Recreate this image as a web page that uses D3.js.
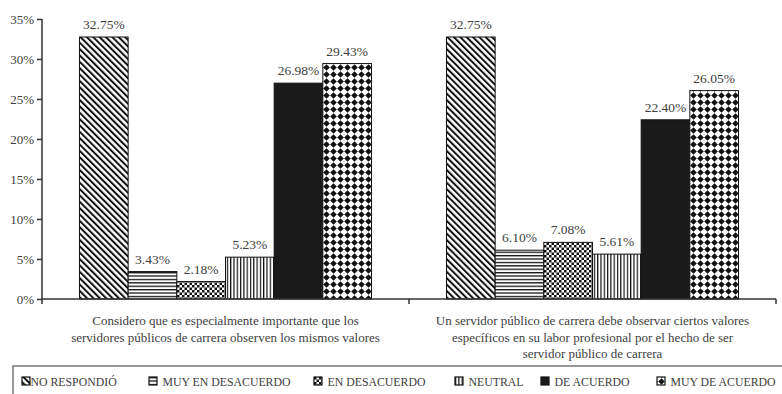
<!DOCTYPE html>
<html>
<head>
<meta charset="utf-8">
<script src="https://cdn.jsdelivr.net/npm/d3@7"></script>
<style>
  body { margin: 0; background: #fff; }
  svg text { font-family: "Liberation Serif", "DejaVu Serif", serif; fill: #404040; }
</style>
</head>
<body>
<div id="myfigure"></div>
<script>
// data
var series = ["NO RESPONDIÓ", "MUY EN DESACUERDO", "EN DESACUERDO", "NEUTRAL", "DE ACUERDO", "MUY DE ACUERDO"];
var categories = ["q1", "q2"];
var categoryLines = [
    ["Considero que es especialmente importante que los",
     "servidores públicos de carrera observen los mismos valores"],
    ["Un servidor público de carrera debe observar ciertos valores",
     "específicos en su labor profesional por el hecho de ser",
     "servidor público de carrera"]
];
var valuesQ1 = [32.75, 3.43, 2.18, 5.23, 26.98, 29.43];
var valuesQ2 = [32.75, 6.10, 7.08, 5.61, 22.40, 26.05];
var yTicks = [0, 5, 10, 15, 20, 25, 30, 35];

var width = 782;
var height = 394;
var margin = { left: 42, right: 6, top: 19, bottom: 95 };
var serif = '"Liberation Serif", "DejaVu Serif", serif';

var svg = d3.select("#myfigure").
    append("svg").
    attr("width", width).
    attr("height", height);

// patterns, one per series
var defs = svg.append("defs");
var patIds = ["p-diag", "p-horiz", "p-check", "p-vert", "p-solid", "p-diamond"];

var p = defs.append("pattern").attr("id", "p-diag").attr("patternUnits", "userSpaceOnUse").
    attr("width", 4.5).attr("height", 4.5).attr("patternTransform", "rotate(-45)");
p.append("rect").attr("width", 4.5).attr("height", 4.5).attr("fill", "#fff");
p.append("rect").attr("x", 0).attr("width", 2).attr("height", 4.5).attr("fill", "#111");

p = defs.append("pattern").attr("id", "p-horiz").attr("patternUnits", "userSpaceOnUse").
    attr("width", 4).attr("height", 3.4);
p.append("rect").attr("width", 4).attr("height", 3.4).attr("fill", "#fff");
p.append("rect").attr("y", 0).attr("width", 4).attr("height", 1.3).attr("fill", "#111");

p = defs.append("pattern").attr("id", "p-check").attr("patternUnits", "userSpaceOnUse").
    attr("width", 5).attr("height", 5);
p.append("rect").attr("width", 5).attr("height", 5).attr("fill", "#fff");
p.append("rect").attr("width", 2.5).attr("height", 2.5).attr("fill", "#111");
p.append("rect").attr("x", 2.5).attr("y", 2.5).attr("width", 2.5).attr("height", 2.5).attr("fill", "#111");

p = defs.append("pattern").attr("id", "p-vert").attr("patternUnits", "userSpaceOnUse").
    attr("width", 3.3).attr("height", 4);
p.append("rect").attr("width", 3.3).attr("height", 4).attr("fill", "#fff");
p.append("rect").attr("x", 0).attr("width", 1.2).attr("height", 4).attr("fill", "#111");

p = defs.append("pattern").attr("id", "p-solid").attr("patternUnits", "userSpaceOnUse").
    attr("width", 4).attr("height", 4);
p.append("rect").attr("width", 4).attr("height", 4).attr("fill", "#1a1a1a");

p = defs.append("pattern").attr("id", "p-diamond").attr("patternUnits", "userSpaceOnUse").
    attr("width", 7).attr("height", 7).attr("x", 1).attr("y", 1);
p.append("rect").attr("width", 7).attr("height", 7).attr("fill", "#fff");
p.append("path").attr("d", "M3.5,0.2 L6.8,3.5 L3.5,6.8 L0.2,3.5 Z").attr("fill", "#111");

var color = d3.scaleOrdinal().domain(series).range(patIds.map(function (id) {
    return "url(#" + id + ")";
}));

var xScale = d3.scaleBand().
    domain(categories).
    range([margin.left, width - margin.right]);

var x1 = d3.scaleBand().
    domain(series).
    range([0, xScale.bandwidth()]).
    paddingInner(0).
    paddingOuter(0.77);

var yScale = d3.scaleLinear().
    domain([0, 35]).
    range([height - margin.bottom, margin.top]);

var rows = [valuesQ1, valuesQ2];

function rowData(d, i) {
    return series.map(function (s, j) {
        return { key: s, value: rows[i][j] };
    });
}

var groups = svg.selectAll("g.group").
    data(categories).
    enter().
    append("g").
    attr("class", "group").
    attr("transform", function (d) {
        return "translate(" + xScale(d) + ",0)";
    });

groups.selectAll("rect").
    data(rowData).
    enter().
    append("rect").
    attr("x", function (d) { return x1(d.key); }).
    attr("y", function (d) { return yScale(d.value); }).
    attr("width", x1.bandwidth()).
    attr("height", function (d) { return yScale(0) - yScale(d.value); }).
    attr("fill", function (d) { return color(d.key); }).
    attr("stroke", "#111").
    attr("stroke-width", 1);

groups.selectAll("text.val").
    data(rowData).
    enter().
    append("text").
    attr("class", "val").
    attr("x", function (d) { return x1(d.key) + x1.bandwidth() / 2; }).
    attr("y", function (d) { return yScale(d.value) - 8; }).
    attr("text-anchor", "middle").
    style("font-size", "13.5px").
    text(function (d) { return d.value.toFixed(2) + "%"; });

// y axis
var yAxis = d3.axisLeft(yScale).
    tickValues(yTicks).
    tickSize(5).
    tickPadding(3).
    tickFormat(function (d) { return d + "%"; });

var gy = svg.append("g").
    attr("transform", "translate(" + margin.left + ",0)").
    call(yAxis);
gy.select(".domain").attr("stroke", "#333").attr("stroke-width", 1.5).attr("d", "M0," + yScale(35) + "V" + yScale(0));
gy.selectAll(".tick line").attr("stroke", "#333").attr("stroke-width", 1.5);
gy.selectAll(".tick text").style("font-size", "13px").style("font-family", serif).attr("fill", "#404040");

// x axis: ticks at band edges
var xEdges = [margin.left, xScale(categories[1]), width - margin.right];
svg.append("line").
    attr("x1", margin.left).attr("x2", width - margin.right).
    attr("y1", yScale(0)).attr("y2", yScale(0)).
    attr("stroke", "#333").attr("stroke-width", 1.5);
svg.selectAll("line.xtick").
    data(xEdges).
    enter().
    append("line").
    attr("class", "xtick").
    attr("x1", function (d) { return d; }).attr("x2", function (d) { return d; }).
    attr("y1", yScale(0)).attr("y2", yScale(0) + 5).
    attr("stroke", "#333").attr("stroke-width", 1.5);

// category labels
svg.selectAll("text.cat").
    data(categories).
    enter().
    append("text").
    attr("class", "cat").
    attr("text-anchor", "middle").
    attr("y", yScale(0) + 26).
    style("font-size", "13px").
    each(function (d, i) {
        var t = d3.select(this);
        var x = xScale(d) + xScale.bandwidth() / 2;
        categoryLines[i].forEach(function (line, k) {
            t.append("tspan").attr("x", x).attr("dy", k === 0 ? 0 : 16.5).text(line);
        });
    });

// legend box
svg.append("rect").
    attr("x", 13).attr("y", 366).
    attr("width", 800).attr("height", 60).
    attr("fill", "none").
    attr("stroke", "#777").
    attr("stroke-width", 1.5);

var legendX = [22, 149, 314, 455, 541, 657];
var leg = svg.selectAll("g.leg").
    data(series).
    enter().
    append("g").
    attr("class", "leg").
    attr("transform", function (d, i) { return "translate(" + legendX[i] + ",377)"; });

leg.append("rect").
    attr("width", 8).attr("height", 8).
    attr("fill", function (d) { return color(d); }).
    attr("stroke", "#111").attr("stroke-width", 1.2);

leg.append("text").
    attr("x", function (d, i) { return i === 0 ? 8.5 : 13.5; }).
    attr("y", 8.5).
    style("font-size", "11.8px").
    style("font-family", serif).
    attr("fill", "#333").
    text(function (d) { return d; });
</script>
</body>
</html>
